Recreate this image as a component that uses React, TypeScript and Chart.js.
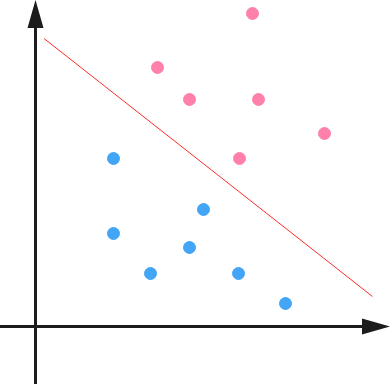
import React, { useEffect, useRef } from "react";
import { Chart, registerables } from "chart.js";

Chart.register(...registerables);

// Data (units: arbitrary, origin at axis intersection)
const pinkX = [21.7, 12.2, 15.4, 22.3, 28.9, 20.4];
const pinkY = [31.3, 25.9, 22.7, 22.7, 19.3, 16.8];
const blueX = [7.8, 16.8, 7.8, 15.4, 11.5, 20.3, 25.0];
const blueY = [16.8, 11.7, 9.3, 7.9, 5.3, 5.3, 2.3];
const lineX = [0.85, 33.7];
const lineY = [28.8, 3.0];

const X_MIN = -3.55;
const X_MAX = 35.55;
const Y_MIN = -5.75;
const Y_MAX = 32.65;
const X_TIP = 35.45;
const Y_TIP = 32.65;

const axesPlugin = {
  id: "arrowAxes",
  beforeDatasetsDraw(chart: any) {
    const { ctx, scales, chartArea } = chart;
    const xs = scales.x;
    const ys = scales.y;
    const ox = xs.getPixelForValue(0);
    const oy = ys.getPixelForValue(0);
    const tx = xs.getPixelForValue(X_TIP);
    const ty = ys.getPixelForValue(Y_TIP);
    const len = 28;
    const half = 8;
    ctx.save();
    ctx.strokeStyle = "#1c1c1c";
    ctx.fillStyle = "#1c1c1c";
    ctx.lineWidth = 3;
    // vertical axis
    ctx.beginPath();
    ctx.moveTo(ox, chartArea.bottom);
    ctx.lineTo(ox, ty + len);
    ctx.stroke();
    ctx.beginPath();
    ctx.moveTo(ox, ty);
    ctx.lineTo(ox - half, ty + len);
    ctx.lineTo(ox + half, ty + len);
    ctx.closePath();
    ctx.fill();
    // horizontal axis
    ctx.beginPath();
    ctx.moveTo(chartArea.left, oy);
    ctx.lineTo(tx - len, oy);
    ctx.stroke();
    ctx.beginPath();
    ctx.moveTo(tx, oy);
    ctx.lineTo(tx - len, oy - half);
    ctx.lineTo(tx - len, oy + half);
    ctx.closePath();
    ctx.fill();
    ctx.restore();
  },
};

export default function App() {
  const ref = useRef<HTMLCanvasElement>(null);
  useEffect(() => {
    document.body.style.margin = "0";
    const chart = new Chart(ref.current!, {
      type: "scatter",
      data: {
        datasets: [
          {
            type: "line",
            data: lineX.map((x, i) => ({ x, y: lineY[i] })),
            borderColor: "#ff2a2a",
            borderWidth: 1,
            pointRadius: 0,
            fill: false,
          } as any,
          {
            data: pinkX.map((x, i) => ({ x, y: pinkY[i] })),
            backgroundColor: "#ff80ab",
            borderColor: "#ff80ab",
            borderWidth: 1,
            pointRadius: 6,
          },
          {
            data: blueX.map((x, i) => ({ x, y: blueY[i] })),
            backgroundColor: "#42a5f5",
            borderColor: "#42a5f5",
            borderWidth: 1,
            pointRadius: 6,
          },
        ],
      },
      options: {
        animation: false,
        responsive: false,
        maintainAspectRatio: false,
        layout: { padding: 0, autoPadding: false },
        plugins: { legend: { display: false }, tooltip: { enabled: false } },
        scales: {
          x: { type: "linear", min: X_MIN, max: X_MAX, display: false },
          y: { type: "linear", min: Y_MIN, max: Y_MAX, display: false },
        },
      },
      plugins: [axesPlugin],
    });
    return () => chart.destroy();
  }, []);
  return (
    <div style={{ width: 391, height: 384 }}>
      <canvas ref={ref} width={391} height={384} />
    </div>
  );
}
